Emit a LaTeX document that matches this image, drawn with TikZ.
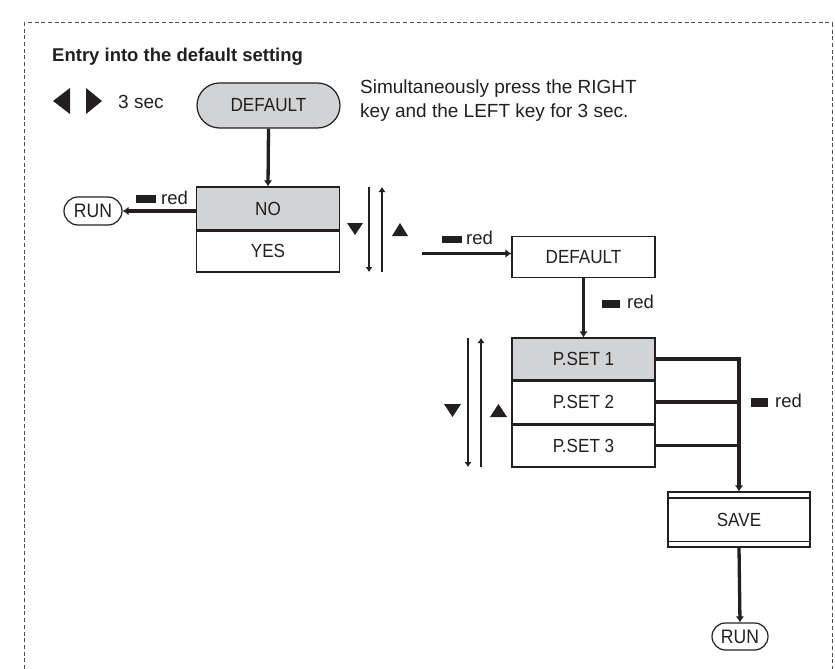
\documentclass[tikz,border=0pt]{standalone}
\usepackage{fontspec}
\setmainfont{Liberation Sans}
\newfontfamily\labelfont[FakeStretch=0.9]{Liberation Sans}
\usetikzlibrary{arrows.meta,shapes.misc}
\definecolor{ink}{HTML}{231F20}
\definecolor{boxgray}{HTML}{D1D3D4}
\begin{document}
\begin{tikzpicture}[x=1pt,y=-1pt,
  every node/.style={font=\labelfont\fontsize{19}{22}\selectfont, text=ink, inner sep=0pt},
  box/.style={draw=ink, line width=1.2pt, minimum width=143pt, inner sep=0pt},
  term/.style={draw=ink, line width=1.2pt, rounded rectangle, inner sep=0pt},
  conn/.style={draw=ink, line width=3.3pt, -{Latex[length=6pt,width=8.5pt]}},
  keyarrow/.style={draw=ink, line width=2.8pt, -{Latex[length=5pt,width=7.5pt]}},
  bar/.style={draw=ink, line width=3.4pt},
  feed/.style={draw=ink, line width=3.3pt},
  keymark/.style={fill=ink},
  redtext/.style={font=\fontsize{18.5}{22}\selectfont},
  frame/.style={draw=ink!80, line width=1pt, dash pattern=on 4pt off 2.7pt}
]
\useasboundingbox (0,0) rectangle (835,669);
% frame
\draw[frame] (24,669) -- (24,23) -- (832,23) -- (832,669);

% title and notes
\node[anchor=base west, font=\fontsize{18.5}{22}\selectfont\bfseries] (title) at (52,62) {Entry into the default setting};
\fill[keymark] (70,88) -- (53,101) -- (70,114) -- cycle;
\fill[keymark] (86,88) -- (102,101) -- (86,114) -- cycle;
\node[anchor=west, font=\fontsize{19}{23}\selectfont] (sec) at (118,102) {3 sec};
\node[anchor=west, align=left, font=\fontsize{19}{24}\selectfont] (note) at (360,101) {Simultaneously press the RIGHT\\key and the LEFT key for 3 sec.};

% nodes
\node[term, fill=boxgray, minimum width=143pt, minimum height=45pt] (def1) at (268.5,105.5) {DEFAULT};
\node[box, fill=boxgray, minimum height=43pt] (no) at (268,208.5) {NO};
\node[box, minimum height=42pt] (yes) at (268,251) {YES};
\node[term, minimum width=58pt, minimum height=28pt, font=\labelfont\fontsize{19.5}{22}\selectfont] (run1) at (93,211) {RUN};
\node[box, minimum height=41pt] (def2) at (583.5,257) {DEFAULT};
\node[box, fill=boxgray, minimum height=42pt] (p1) at (583.5,359) {P.SET 1};
\node[box, minimum height=44pt] (p2) at (583.5,402) {P.SET 2};
\node[box, minimum height=43pt] (p3) at (583.5,445.5) {P.SET 3};
\node[box, minimum width=142pt, minimum height=55pt] (save) at (739,519.5) {SAVE};
\node[term, minimum width=56pt, minimum height=27pt, font=\labelfont\fontsize{19.5}{22}\selectfont] (run2) at (740,636.5) {RUN};

% separators
\draw[bar] (no.south west) -- (no.south east);
\draw[bar] (p1.south west) -- (p1.south east);
\draw[bar] (p2.south west) -- (p2.south east);
\draw[draw=ink, line width=1.2pt] ([yshift=-6.5pt]save.north west) -- ([yshift=-6.5pt]save.north east);
\draw[draw=ink, line width=1.2pt] ([yshift=6.5pt]save.south west) -- ([yshift=6.5pt]save.south east);

% connectors
\draw[conn] (def1.south) -- (no.north);
\draw[conn] (no.west |- run1.east) -- (run1.east);
\coordinate (ystart) at (422,253.5);
\draw[conn] (ystart) -- (ystart -| def2.west);
\draw[conn] (def2.south) -- (p1.north);
\draw[conn] (p1.east) -| (save.north);
\draw[feed] (p2.east) -- (p2.east -| save.north);
\draw[feed] (p3.east) -- (p3.east -| save.north);
\draw[conn] (save.south) -- (run2.north);

% key arrows NO/YES
\coordinate (nd1) at (369,187); \coordinate (nd2) at (369,272);
\coordinate (nu1) at (382,272); \coordinate (nu2) at (382,187);
\draw[keyarrow] (nd1) -- (nd2);
\draw[keyarrow] (nu1) -- (nu2);
\fill[keymark] (347,223) -- (363,223) -- (355,235) -- cycle;
\fill[keymark] (392,236) -- (408,236) -- (400,223) -- cycle;

% key arrows P.SET
\coordinate (pd1) at (468,338); \coordinate (pd2) at (468,467);
\coordinate (pu1) at (481,467); \coordinate (pu2) at (481,338);
\draw[keyarrow] (pd1) -- (pd2);
\draw[keyarrow] (pu1) -- (pu2);
\fill[keymark] (444,404) -- (461,404) -- (452.5,417) -- cycle;
\fill[keymark] (490,417) -- (507,417) -- (498.5,404) -- cycle;

% "red" labels
\fill[keymark] (136,195) rectangle (156,203);
\node[anchor=base west, redtext] (red1) at (161,204) {red};
\fill[keymark] (442,236) rectangle (462,243);
\node[anchor=base west, redtext] (red2) at (466,244) {red};
\fill[keymark] (602,300) rectangle (620,308);
\node[anchor=base west, redtext] (red3) at (627,308) {red};
\fill[keymark] (751,398) rectangle (768,407);
\node[anchor=base west, redtext] (red4) at (775,407) {red};
\end{tikzpicture}
\end{document}
